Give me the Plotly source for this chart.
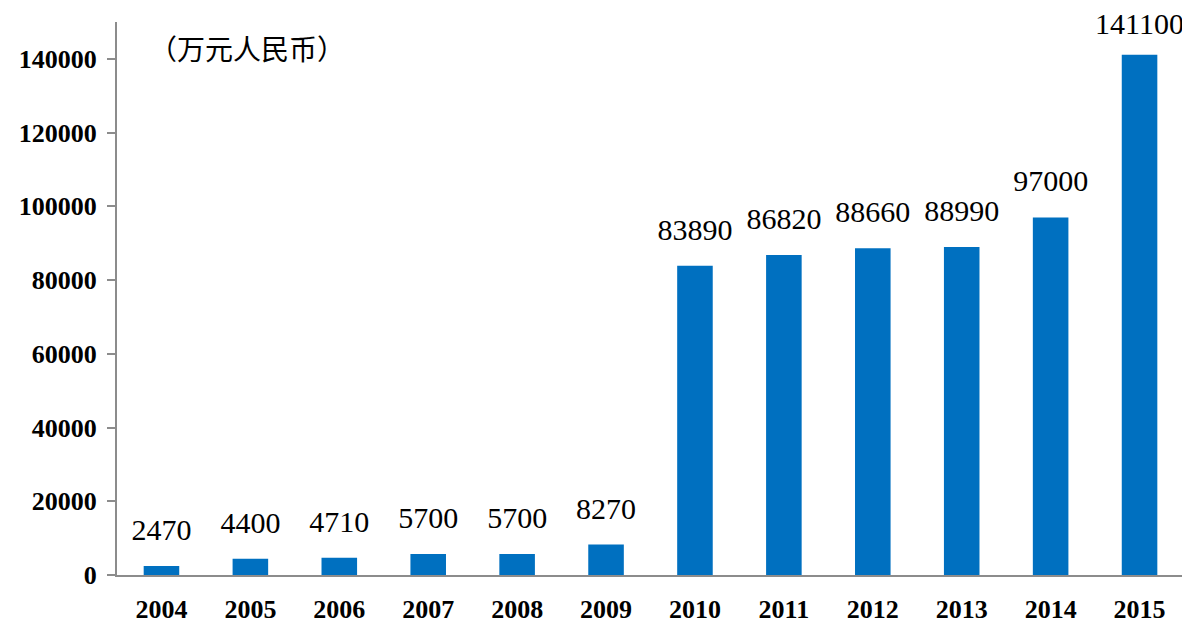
import plotly.graph_objects as go

years = ["2004", "2005", "2006", "2007", "2008", "2009", "2010", "2011", "2012", "2013", "2014", "2015"]
values = [2470, 4400, 4710, 5700, 5700, 8270, 83890, 86820, 88660, 88990, 97000, 141100]
y_ticks = [0, 20000, 40000, 60000, 80000, 100000, 120000, 140000]
unit_label = "（万元人民币）"

Y_MAX = 150000
SERIF = "Liberation Serif, Times New Roman, serif"

fig = go.Figure()
fig.add_trace(go.Bar(
    x=list(range(len(years))), y=values, marker=dict(color="#0070C0", line=dict(width=0)),
    width=0.4, showlegend=False, hoverinfo="skip",
))

# invisible markers push the value labels up above each bar
gap_sizes = [28 if v < 0.9 * Y_MAX else 20 for v in values]
fig.add_trace(go.Scatter(
    x=list(range(len(years))), y=values, mode="markers+text",
    text=[str(v) for v in values], textposition="top center",
    marker=dict(size=gap_sizes, color="rgba(0,0,0,0)", line=dict(width=0)),
    textfont=dict(family=SERIF, size=30, color="#000000"),
    showlegend=False, cliponaxis=False, hoverinfo="skip",
))

fig.add_annotation(
    xref="paper", yref="paper", x=0.028, y=0.953, text=unit_label, showarrow=False,
    xanchor="left", yanchor="middle",
    font=dict(family="Noto Sans CJK SC", size=28, color="#000000"),
)

fig.update_layout(
    width=1182, height=620,
    margin=dict(l=109, r=6, t=14, b=53, autoexpand=False),
    paper_bgcolor="white", plot_bgcolor="white",
    font=dict(family=SERIF),
)
fig.update_xaxes(
    range=[-0.5, len(years) - 0.5], tickvals=list(range(len(years))),
    ticktext=["<b>%s</b>" % y for y in years],
    showgrid=False, showline=True, linecolor="#8c8c8c", linewidth=2, zeroline=False,
    ticks="", tickfont=dict(family=SERIF, size=26, color="#000000"),
    ticklabelstandoff=10,
)
fig.update_yaxes(
    range=[0, Y_MAX], showgrid=False, showline=True, linecolor="#8c8c8c", linewidth=2,
    ticks="outside", ticklen=8, tickcolor="#8c8c8c", tickwidth=2,
    tickvals=y_ticks, ticktext=["<b>%d</b>" % t for t in y_ticks],
    tickfont=dict(family=SERIF, size=26, color="#000000"),
    ticklabelstandoff=5, zeroline=False,
)
fig.write_html("out.html")
